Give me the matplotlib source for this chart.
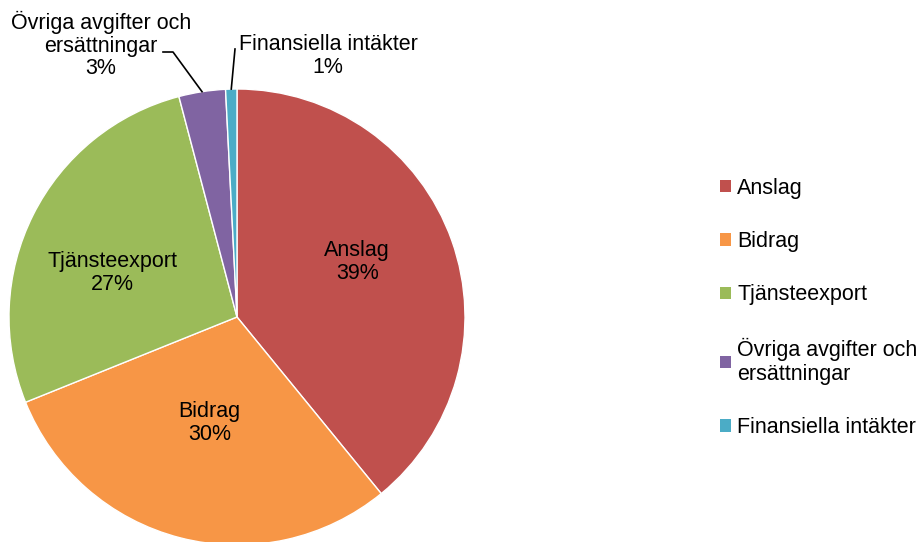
import numpy as np
import matplotlib.pyplot as plt
from matplotlib.patches import Patch

plt.rcParams['font.family'] = ['Liberation Sans', 'DejaVu Sans']

# Data
labels = ["Anslag", "Bidrag", "Tjänsteexport", "Övriga avgifter och\nersättningar", "Finansiella intäkter"]
values = [39.1, 29.8, 27.0, 3.3, 0.8]
pct_labels = ["39%", "30%", "27%", "3%", "1%"]
colors = ["#C0504D", "#F79646", "#9BBB59", "#8064A2", "#4BACC6"]

W, H = 918, 542
fig = plt.figure(figsize=(W / 100, H / 100), dpi=100)

# pie centre (237, 317) px, radius 228 px
cx, cy, r = 237, 317, 228
ax = fig.add_axes([(cx - r) / W, (H - cy - r) / H, 2 * r / W, 2 * r / H])
wedges, _ = ax.pie(values, colors=colors, startangle=90, counterclock=False,
                   radius=1.0, wedgeprops=dict(edgecolor="white", linewidth=1.0))
ax.set_xlim(-1, 1)
ax.set_ylim(-1, 1)
ax.set_aspect("equal")
ax.axis("off")

fs = 15.5

# labels inside the big slices
inner_r = [0.58, 0.48, 0.58]
inner_shift = [5, 0, 7]  # degrees
for i in range(3):
    w = wedges[i]
    ang = np.radians((w.theta1 + w.theta2) / 2 + inner_shift[i])
    ax.text(inner_r[i] * np.cos(ang), inner_r[i] * np.sin(ang),
            labels[i] + "\n" + pct_labels[i], ha="center", va="center",
            fontsize=fs, linespacing=1.12)

# outside labels with leader lines
def px2d(px, py):
    return (px - cx) / r, (cy - py) / r

tx, ty = px2d(101, 45)
ax.text(tx, ty, labels[3] + "\n" + pct_labels[3], ha="center", va="center",
        fontsize=fs, linespacing=1.12, clip_on=False)
w = wedges[3]
ang = np.radians((w.theta1 + w.theta2) / 2)
p1 = px2d(163, 52)
p2 = px2d(173, 52)
ax.plot([p1[0], p2[0], np.cos(ang)], [p1[1], p2[1], np.sin(ang)],
        color="black", lw=1.2, clip_on=False)

tx, ty = px2d(328, 56)
ax.text(tx, ty, labels[4] + "\n" + pct_labels[4], ha="center", va="center",
        fontsize=fs, linespacing=1.12, clip_on=False)
w = wedges[4]
ang = np.radians((w.theta1 + w.theta2) / 2)
p1 = px2d(235, 49)
ax.plot([p1[0], np.cos(ang)], [p1[1], np.sin(ang)],
        color="black", lw=1.2, clip_on=False)

# legend
handles = [Patch(facecolor=c, edgecolor="none") for c in colors]
fig.legend(handles, labels, loc="center left", bbox_to_anchor=(705 / W, 1 - 308 / H),
           frameon=False, fontsize=fs, handlelength=0.5, handleheight=0.5,
           handletextpad=0.3, labelspacing=1.5, borderpad=0.2)

fig.savefig("out.png", dpi=100)
